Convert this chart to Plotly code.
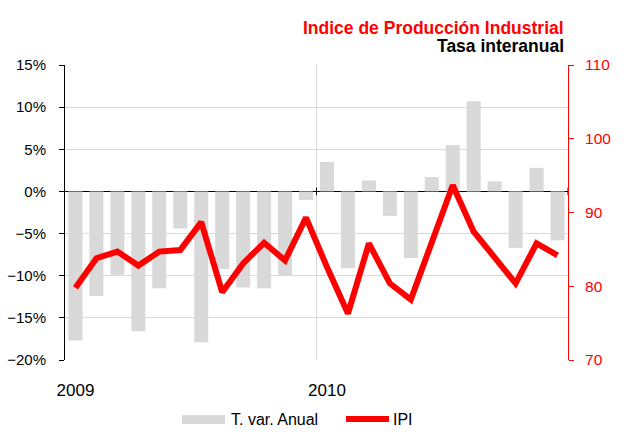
import plotly.graph_objects as go

months = list(range(24))
tick_vals = [0, 12]
tick_text = ["2009", "2010"]

tasa_anual = [-17.7, -12.4, -9.9, -16.6, -11.5, -4.4, -17.9, -9.2, -11.4, -11.5, -10.0, -1.0,
              3.5, -9.1, 1.3, -2.9, -7.9, 1.7, 5.5, 10.7, 1.2, -6.7, 2.8, -5.8]
ipi = [79.8, 83.8, 84.7, 82.8, 84.7, 84.9, 88.7, 79.2, 83.1, 85.9, 83.5, 89.3,
       82.6, 76.3, 85.8, 80.4, 78.2, 86.1, 93.7, 87.4, 84.0, 80.4, 85.8, 84.2]

FONT = "Arial, Liberation Sans, sans-serif"
RED = "#ff0000"
GRAY = "#d9d9d9"

fig = go.Figure()
fig.add_trace(go.Bar(x=months, y=tasa_anual, name="T. var. Anual",
                     marker=dict(color=GRAY, line=dict(width=0)), yaxis="y"))
fig.add_trace(go.Scatter(x=months, y=ipi, name="IPI", mode="lines",
                         line=dict(color=RED, width=6), yaxis="y2"))

fig.update_layout(
    width=625, height=434,
    margin=dict(l=65, r=57, t=65, b=74, autoexpand=False),
    paper_bgcolor="white", plot_bgcolor="white",
    showlegend=False,
    bargap=0.33,
    font=dict(family=FONT, color="black"),
    xaxis=dict(range=[-0.5, 23.5], tickvals=tick_vals, ticktext=tick_text,
               showgrid=False, zeroline=False, showline=False, ticks="",
               ticklabelstandoff=18, automargin=False,
               tickfont=dict(size=17, color="black")),
    yaxis=dict(range=[-20, 15], dtick=5, ticksuffix="%",
               showgrid=True, gridcolor=GRAY, gridwidth=1,
               zeroline=True, zerolinecolor="black", zerolinewidth=1,
               showline=True, linecolor="black", linewidth=1,
               ticks="outside", ticklen=5, tickcolor="black",
               ticklabelstandoff=10, automargin=False,
               tickfont=dict(size=15, color="black")),
    yaxis2=dict(range=[70, 110], dtick=10, overlaying="y", side="right",
                showgrid=False, zeroline=False,
                showline=True, linecolor=RED, linewidth=1,
                ticks="outside", ticklen=5, tickcolor=RED,
                ticklabelstandoff=8, automargin=False,
                tickfont=dict(size=15.5, color=RED)),
)

# vertical gridline at year boundary and small ticks on the zero line
fig.add_shape(type="line", xref="x", yref="paper", x0=11.5, x1=11.5, y0=0, y1=1,
              line=dict(color=GRAY, width=1), layer="below")
for xb in [11.5, 23.5]:
    fig.add_shape(type="line", xref="x", yref="y", x0=xb, x1=xb, y0=-0.45, y1=0.45,
                  line=dict(color="black", width=1))

# titles
fig.add_annotation(text="<b>Indice de Producción Industrial</b>", xref="paper", yref="paper",
                   x=0.996, y=1.127, xanchor="right", yanchor="middle", showarrow=False,
                   font=dict(size=17.5, color=RED, family=FONT))
fig.add_annotation(text="<b>Tasa interanual</b>", xref="paper", yref="paper",
                   x=0.996, y=1.063, xanchor="right", yanchor="middle", showarrow=False,
                   font=dict(size=17.5, color="black", family=FONT))

# custom legend
def px_x(p):
    return (p - 65) / 503
def px_y(p):
    return (360 - p) / 295

fig.add_shape(type="rect", xref="paper", yref="paper",
              x0=px_x(182), x1=px_x(225), y0=px_y(424), y1=px_y(415),
              fillcolor=GRAY, line=dict(width=0))
fig.add_annotation(text="T. var. Anual", xref="paper", yref="paper",
                   x=px_x(229), y=px_y(419.5), xanchor="left", yanchor="middle",
                   showarrow=False, font=dict(size=16, color="black", family=FONT))
fig.add_shape(type="line", xref="paper", yref="paper",
              x0=px_x(346), x1=px_x(389), y0=px_y(419), y1=px_y(419),
              line=dict(color=RED, width=6))
fig.add_annotation(text="IPI", xref="paper", yref="paper",
                   x=px_x(391), y=px_y(419.5), xanchor="left", yanchor="middle",
                   showarrow=False, font=dict(size=16, color="black", family=FONT))

fig.write_html("out.html", config={"displayModeBar": False},
               post_script="document.body.style.margin='0';document.body.style.overflow='hidden';")
